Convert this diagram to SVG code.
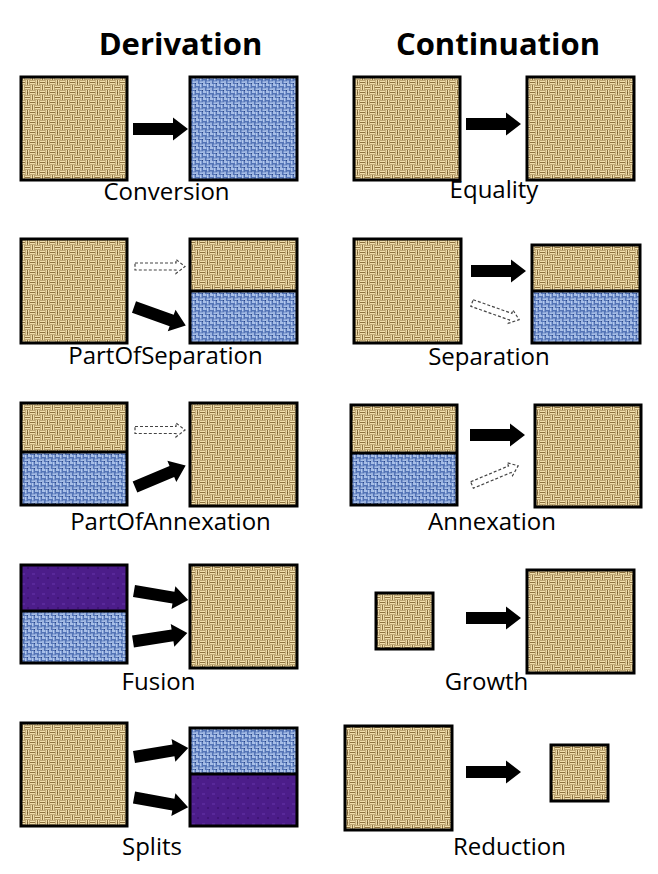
<svg xmlns="http://www.w3.org/2000/svg" xmlns:xlink="http://www.w3.org/1999/xlink" width="658" height="874" viewBox="0 0 658 874">
<style>
.title{font-family:"Open Sans","Liberation Sans",sans-serif;font-weight:bold;font-size:31px;fill:#000;text-anchor:middle}
.lbl{font-family:"Open Sans","Liberation Sans",sans-serif;font-size:24px;fill:#000;text-anchor:middle}
.bd{fill:none;stroke:#000;stroke-width:3}
.tan{fill:url(#pTan)}
.blue{fill:url(#pBlue)}
.purple{fill:url(#pPurple)}
.thick{fill:#000}
.dash{fill:#fff;stroke:#444;stroke-width:1.2;stroke-dasharray:3 2}
</style>
<defs>
<pattern id="pTan" width="10" height="10" patternUnits="userSpaceOnUse">
<rect width="10" height="10" fill="#8c703e"/>
<path d="M0,1.2H5M0,3.7H5M6.2,0V5M8.7,0V5M1.2,5V10M3.7,5V10M5,6.2H10M5,8.7H10" stroke="#f2e0ae" stroke-width="1.5"/>
<rect x="7.2" y="2.3" width="1" height="1" fill="#5e4826"/>
</pattern>
<pattern id="pBlue" width="7" height="7" patternUnits="userSpaceOnUse">
<rect width="7" height="7" fill="#5474b6"/>
<path d="M0,1H3.5M4.8,0V3.5M1,3.5V7M3.5,5.2H7" stroke="#c4d8f8" stroke-width="1.3"/>
<rect x="6" y="6" width="1" height="1" fill="#2a4480"/>
</pattern>
<pattern id="pPurple" width="10" height="10" patternUnits="userSpaceOnUse">
<rect width="10" height="10" fill="#4c1d8a"/>
<rect x="2" y="3" width="3" height="2" fill="#5c2c9e" opacity="0.8"/>
<rect x="7" y="7" width="2" height="2" fill="#3c1272" opacity="0.8"/>
</pattern>
<path id="arr" d="M0,-6H40V-11.5L55,0L40,11.5V6H0Z"/>
<path id="darr" d="M0,-3.5H41V-7L50,0L41,7V3.5H0Z"/>
</defs>
<rect width="658" height="874" fill="#fff"/>

<g id="titles">
<text class="title" x="180.5" y="55">Derivation</text>
<text class="title" x="498" y="55">Continuation</text>
</g>

<!-- Row 1 -->
<g id="conversion-src"><rect class="tan" x="21" y="77" width="106" height="103"/><rect class="bd" x="21" y="77" width="106" height="103"/></g>
<g id="conversion-dst"><rect class="blue" x="190" y="77" width="107" height="103"/><rect class="bd" x="190" y="77" width="107" height="103"/></g>
<g id="equality-src"><rect class="tan" x="354" y="77" width="106" height="103"/><rect class="bd" x="354" y="77" width="106" height="103"/></g>
<g id="equality-dst"><rect class="tan" x="527" y="77" width="107" height="103"/><rect class="bd" x="527" y="77" width="107" height="103"/></g>

<!-- Row 2 -->
<g id="partofseparation-src"><rect class="tan" x="21" y="239" width="106" height="104"/><rect class="bd" x="21" y="239" width="106" height="104"/></g>
<g id="partofseparation-dst"><rect class="tan" x="190" y="239" width="107" height="52"/><rect class="blue" x="190" y="291" width="107" height="52"/><rect class="bd" x="190" y="239" width="107" height="104"/><line class="bd" x1="190" y1="291" x2="297" y2="291"/></g>
<g id="separation-src"><rect class="tan" x="354" y="239" width="107" height="104"/><rect class="bd" x="354" y="239" width="107" height="104"/></g>
<g id="separation-dst"><rect class="tan" x="532" y="245" width="108" height="46"/><rect class="blue" x="532" y="291" width="108" height="52"/><rect class="bd" x="532" y="245" width="108" height="98"/><line class="bd" x1="532" y1="291" x2="640" y2="291"/></g>

<!-- Row 3 -->
<g id="partofannexation-src"><rect class="tan" x="21" y="403" width="106" height="49"/><rect class="blue" x="21" y="452" width="106" height="53"/><rect class="bd" x="21" y="403" width="106" height="102"/><line class="bd" x1="21" y1="452" x2="127" y2="452"/></g>
<g id="partofannexation-dst"><rect class="tan" x="190" y="403" width="107" height="103"/><rect class="bd" x="190" y="403" width="107" height="103"/></g>
<g id="annexation-src"><rect class="tan" x="351" y="405" width="106" height="48"/><rect class="blue" x="351" y="453" width="106" height="52"/><rect class="bd" x="351" y="405" width="106" height="100"/><line class="bd" x1="351" y1="453" x2="457" y2="453"/></g>
<g id="annexation-dst"><rect class="tan" x="535" y="405" width="106" height="102"/><rect class="bd" x="535" y="405" width="106" height="102"/></g>

<!-- Row 4 -->
<g id="fusion-src"><rect class="purple" x="21" y="565" width="106" height="46"/><rect class="blue" x="21" y="611" width="106" height="52"/><rect class="bd" x="21" y="565" width="106" height="98"/><line class="bd" x1="21" y1="611" x2="127" y2="611"/></g>
<g id="fusion-dst"><rect class="tan" x="190" y="565" width="107" height="103"/><rect class="bd" x="190" y="565" width="107" height="103"/></g>
<g id="growth-src"><rect class="tan" x="376" y="593" width="57" height="56"/><rect class="bd" x="376" y="593" width="57" height="56"/></g>
<g id="growth-dst"><rect class="tan" x="527" y="570" width="107" height="103"/><rect class="bd" x="527" y="570" width="107" height="103"/></g>

<!-- Row 5 -->
<g id="splits-src"><rect class="tan" x="21" y="723" width="106" height="103"/><rect class="bd" x="21" y="723" width="106" height="103"/></g>
<g id="splits-dst"><rect class="blue" x="190" y="728" width="107" height="46"/><rect class="purple" x="190" y="774" width="107" height="52"/><rect class="bd" x="190" y="728" width="107" height="98"/><line class="bd" x1="190" y1="774" x2="297" y2="774"/></g>
<g id="reduction-src"><rect class="tan" x="345" y="726" width="107" height="104"/><rect class="bd" x="345" y="726" width="107" height="104"/></g>
<g id="reduction-dst"><rect class="tan" x="551" y="745" width="57" height="56"/><rect class="bd" x="551" y="745" width="57" height="56"/></g>

<g id="connectors">
<use href="#arr" class="thick" transform="translate(133,129)"/>
<use href="#arr" class="thick" transform="translate(466,124)"/>
<use href="#darr" class="dash" transform="translate(135,266.5)"/>
<use href="#arr" class="thick" transform="translate(134,307) rotate(19.7)"/>
<use href="#arr" class="thick" transform="translate(471,271)"/>
<use href="#darr" class="dash" transform="translate(472,303) rotate(19.5)"/>
<use href="#darr" class="dash" transform="translate(135,430)"/>
<use href="#arr" class="thick" transform="translate(135,487) rotate(-22.9)"/>
<use href="#arr" class="thick" transform="translate(470,435)"/>
<use href="#darr" class="dash" transform="translate(472,485) rotate(-22.6)"/>
<use href="#arr" class="thick" transform="translate(134,591) rotate(9.5)"/>
<use href="#arr" class="thick" transform="translate(133,641.5) rotate(-8.9)"/>
<use href="#arr" class="thick" transform="translate(466,618)"/>
<use href="#arr" class="thick" transform="translate(134,757) rotate(-9.5)"/>
<use href="#arr" class="thick" transform="translate(134,797.5) rotate(10.2)"/>
<use href="#arr" class="thick" transform="translate(466,772)"/>
</g>

<g id="labels">
<text class="lbl" x="166.5" y="200">Conversion</text>
<text class="lbl" x="494" y="198">Equality</text>
<text class="lbl" x="165.5" y="364">PartOfSeparation</text>
<text class="lbl" x="489" y="365">Separation</text>
<text class="lbl" x="170.5" y="530">PartOfAnnexation</text>
<text class="lbl" x="492" y="530">Annexation</text>
<text class="lbl" x="158.5" y="690">Fusion</text>
<text class="lbl" x="486.5" y="690">Growth</text>
<text class="lbl" x="152" y="855">Splits</text>
<text class="lbl" x="509.5" y="855">Reduction</text>
</g>
</svg>
